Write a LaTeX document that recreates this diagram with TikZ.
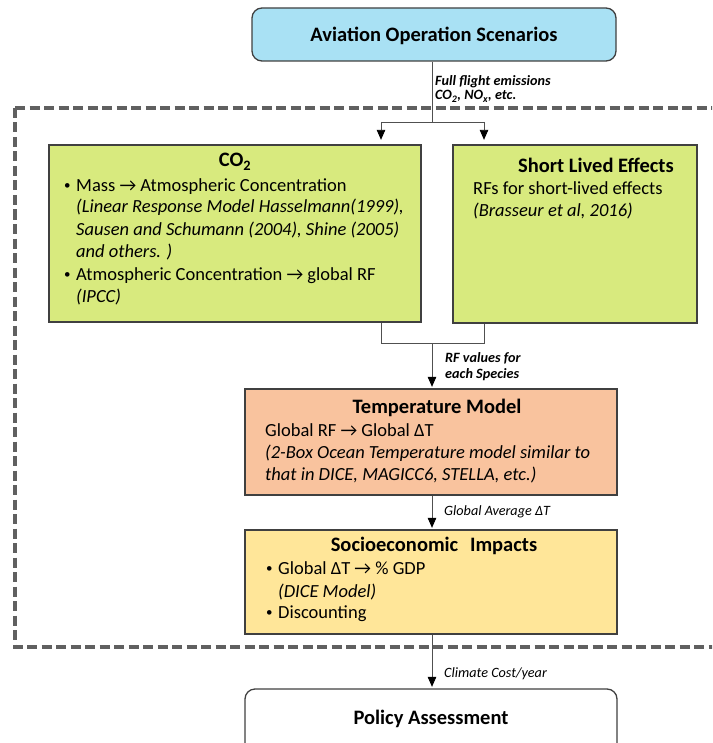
\documentclass[tikz,border=0pt]{standalone}
\usepackage{fontspec}
\setmainfont{Carlito}
\usetikzlibrary{arrows.meta}
\definecolor{topfill}{HTML}{A9E1F4}
\definecolor{greenfill}{HTML}{D8EA7E}
\definecolor{peachfill}{HTML}{F9C39E}
\definecolor{yellowfill}{HTML}{FFE699}
\definecolor{boxline}{HTML}{404040}
\definecolor{dashc}{HTML}{606060}
\definecolor{connc}{HTML}{505050}
\newcommand{\titlefont}{\fontsize{20.5}{24}\selectfont\bfseries}
\newcommand{\bodyfont}{\fontsize{18.5}{22.3}\selectfont}
\newcommand{\labfont}{\fontsize{14.2}{16}\selectfont\itshape}
\newcommand{\bulfont}{\fontsize{13}{13}\selectfont}
\begin{document}
\begin{tikzpicture}[x=1pt,y=-1pt,
  box/.style={draw=boxline,line width=1.3pt,inner sep=0pt,rectangle},
  rbox/.style={box,rounded corners=10pt},
  txt/.style={inner sep=0pt,anchor=base west,text=black},
  ctxt/.style={inner sep=0pt,anchor=base,text=black},
  bul/.style={txt,font=\bulfont},
  line/.style={draw=connc,line width=0.9pt},
  arr/.style={line,-{Triangle[length=10pt,width=8.5pt,color=black]}},
  dashbox/.style={draw=dashc,line width=4pt,dash pattern=on 10pt off 4.5pt}]
\useasboundingbox (0,0) rectangle (712,743);
\clip (0,0) rectangle (712,743);

% dashed frame
\draw[dashbox] (15,108) -- (730,108) (15,108) -- (15,647) -- (730,647);

% boxes
\node[rbox,fill=topfill,minimum width=364pt,minimum height=53pt] (top) at (434,34.5) {};
\node[box,fill=greenfill,minimum width=372pt,minimum height=177pt] (co2) at (235,233.5) {};
\node[box,fill=greenfill,minimum width=244pt,minimum height=178pt] (short) at (575,234) {};
\node[box,fill=peachfill,minimum width=372pt,minimum height=106pt] (temp) at (431,442) {};
\node[box,fill=yellowfill,minimum width=372pt,minimum height=104pt] (socio) at (431,582) {};
\node[rbox,fill=white,minimum width=372pt,minimum height=91pt] (policy) at (431,734.5) {};

% texts: top
\node[ctxt,font=\titlefont] (toptitle) at (434,42) {Aviation Operation Scenarios};

% CO2 box
\node[ctxt,font=\titlefont] (co2title) at (235,167) {CO\textsubscript{2}};
\node[bul] (b1) at (64,190) {\textbullet};
\node[txt,font=\bodyfont] (c1) at (76,192) {Mass → Atmospheric Concentration};
\node[txt,font=\bodyfont\itshape] (c2) at (76,213) {(Linear Response Model Hasselmann(1999),};
\node[txt,font=\bodyfont\itshape] (c3) at (76,235) {Sausen and Schumann (2004), Shine (2005)};
\node[txt,font=\bodyfont\itshape] (c4) at (76,257) {and others. )};
\node[bul] (b2) at (64,278) {\textbullet};
\node[txt,font=\bodyfont] (c5) at (76,280) {Atmospheric Concentration → global RF};
\node[txt,font=\bodyfont\itshape] (c6) at (76,302) {(IPCC)};

% short lived box
\node[txt,font=\titlefont] (shorttitle) at (518,173) {Short Lived Effects};
\node[txt,font=\bodyfont] (s1) at (473,195) {RFs for short-lived effects};
\node[txt,font=\bodyfont\itshape] (s2) at (473,217) {(Brasseur et al, 2016)};

% temperature box
\node[ctxt,font=\titlefont] (temptitle) at (437,413) {Temperature Model};
\node[txt,font=\bodyfont] (t1) at (265,436) {Global RF → Global ΔT};
\node[txt,font=\bodyfont\itshape] (t2) at (265,458) {(2-Box Ocean Temperature model similar to};
\node[txt,font=\bodyfont\itshape] (t3) at (265,480) {that in DICE, MAGICC6, STELLA, etc.)};

% socioeconomic box
\node[ctxt,font=\titlefont] (sociotitle) at (434,551) {Socioeconomic\hspace{0.35em} Impacts};
\node[bul] (sb1) at (266,572) {\textbullet};
\node[txt,font=\bodyfont] (e1) at (278,574) {Global ΔT → \% GDP};
\node[txt,font=\bodyfont\itshape] (e2) at (278,597) {(DICE Model)};
\node[bul] (sb2) at (266,616) {\textbullet};
\node[txt,font=\bodyfont] (e3) at (278,618) {Discounting};

% policy
\node[ctxt,font=\titlefont] (policytitle) at (431,724) {Policy Assessment};

% connector coordinates
\coordinate (split) at (432,122);
\coordinate (lA) at (381,122);
\coordinate (rA) at (484,122);
\coordinate (mL) at (381,343);
\coordinate (mR) at (484,343);
\coordinate (merge) at (432,343);

% connectors
\draw[line] (top.south -| split) -- (split);
\draw[line] (lA) -- (rA);
\draw[arr,shorten >=4.5pt] (lA) -- (lA |- co2.north);
\draw[arr,shorten >=4.5pt] (rA) -- (rA |- short.north);
\draw[line] (mL |- co2.south) -- (mL) -- (mR) -- (mR |- short.south);
\draw[arr,shorten >=1.5pt] (merge) -- (merge |- temp.north);
\draw[arr,shorten >=1.5pt] (merge |- temp.south) -- (merge |- socio.north);
\draw[arr,shorten >=1.5pt] (merge |- socio.south) -- (merge |- policy.north);

% labels
\node[txt,font=\labfont\bfseries] (l1) at (435,86) {Full flight emissions};
\node[txt,font=\labfont\bfseries] (l2) at (435,100) {CO\textsubscript{2}, NO\textsubscript{x}, etc.};
\node[txt,font=\labfont\bfseries] (l3) at (445,362) {RF values for};
\node[txt,font=\labfont\bfseries] (l4) at (445,378) {each Species};
\node[txt,font=\labfont] (l5) at (444,515) {Global Average ΔT};
\node[txt,font=\labfont] (l6) at (444,677) {Climate Cost/year};
\end{tikzpicture}
\end{document}
